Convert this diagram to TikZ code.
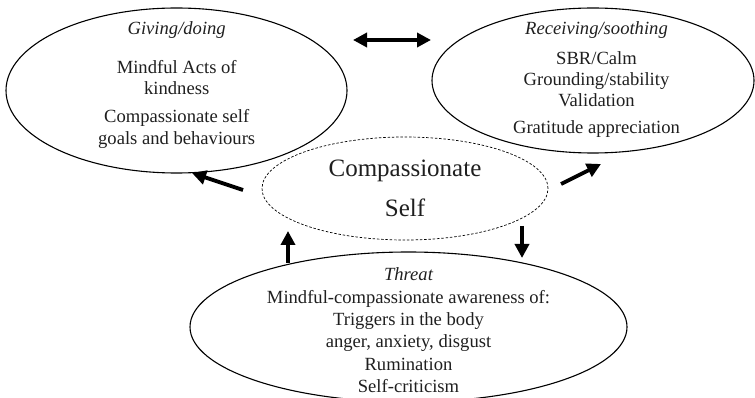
\documentclass[tikz,border=0pt]{standalone}
\usepackage{fontspec}
\setmainfont{Liberation Serif}
\usetikzlibrary{shapes.geometric,arrows.meta}
\begin{document}
\begin{tikzpicture}[x=1pt,y=-1pt,
  oval/.style={draw,ellipse,line width=1.1pt,inner sep=0pt},
  dashoval/.style={draw,ellipse,line width=0.7pt,dash pattern=on 2.5pt off 1.8pt,inner sep=0pt},
  txt/.style={anchor=base,inner sep=0pt,text=black!88,font=\fontsize{18.6}{22}\selectfont},
  head/.style={anchor=base,inner sep=0pt,text=black!88,font=\fontsize{18.6}{22}\selectfont\itshape},
  big/.style={anchor=base,inner sep=0pt,text=black!88,font=\fontsize{25}{30}\selectfont},
  fat/.style={line width=3.8pt,-{Triangle[length=14pt,width=14pt]}},
  fatboth/.style={line width=3.8pt,{Triangle[length=14pt,width=14pt]}-{Triangle[length=14pt,width=14pt]}}]
\useasboundingbox (0,0) rectangle (755,398);
% ellipses
\node[oval,minimum width=341pt,minimum height=165pt] (give) at (176.5,90.5) {};
\node[oval,minimum width=322pt,minimum height=145pt] (recv) at (593,80.5) {};
\node[dashoval,minimum width=286pt,minimum height=103pt] (self) at (405,188.5) {};
\node[oval,minimum width=437pt,minimum height=150pt] (threat) at (408.5,327) {};
% giving text
\node[head] (g0) at (176.7,35) {Giving/doing};
\node[txt] (g1) at (176.7,73.3) {Mindful Acts of};
\node[txt] (g2) at (176.7,95) {kindness};
\node[txt] (g3) at (176.7,122.3) {Compassionate self};
\node[txt] (g4) at (176.7,144.3) {goals and behaviours};
% receiving text
\node[head] (r0) at (596.5,34.3) {Receiving/soothing};
\node[txt] (r1) at (596.5,64.3) {SBR/Calm};
\node[txt] (r2) at (596.5,85.7) {Grounding/stability};
\node[txt] (r3) at (596.5,106.7) {Validation};
\node[txt] (r4) at (596.5,133.3) {Gratitude appreciation};
% self text
\node[big] (s1) at (405,177) {Compassionate};
\node[big] (s2) at (405,217) {Self};
% threat text
\node[head] (t0) at (408.5,280) {Threat};
\node[txt] (t1) at (408.5,303) {Mindful-compassionate awareness of:};
\node[txt] (t2) at (408.5,325) {Triggers in the body};
\node[txt] (t3) at (408.5,347) {anger, anxiety, disgust};
\node[txt] (t4) at (408.5,370) {Rumination};
\node[txt] (t5) at (408.5,392) {Self-criticism};
% arrow end points
\coordinate (dA) at (353,40);
\coordinate (dB) at (431,40);
\coordinate (lT) at (243,190);
\coordinate (lH) at (192,173);
\coordinate (rT) at (561,184);
\coordinate (rH) at (601,164);
\coordinate (uT) at (288,263);
\coordinate (uH) at (288,231);
\coordinate (wT) at (522,226);
\coordinate (wH) at (522,258);
\draw[fatboth] (dA) -- (dB);
\draw[fat] (lT) -- (lH);
\draw[fat] (rT) -- (rH);
\draw[fat] (uT) -- (uH);
\draw[fat] (wT) -- (wH);
\end{tikzpicture}
\end{document}
